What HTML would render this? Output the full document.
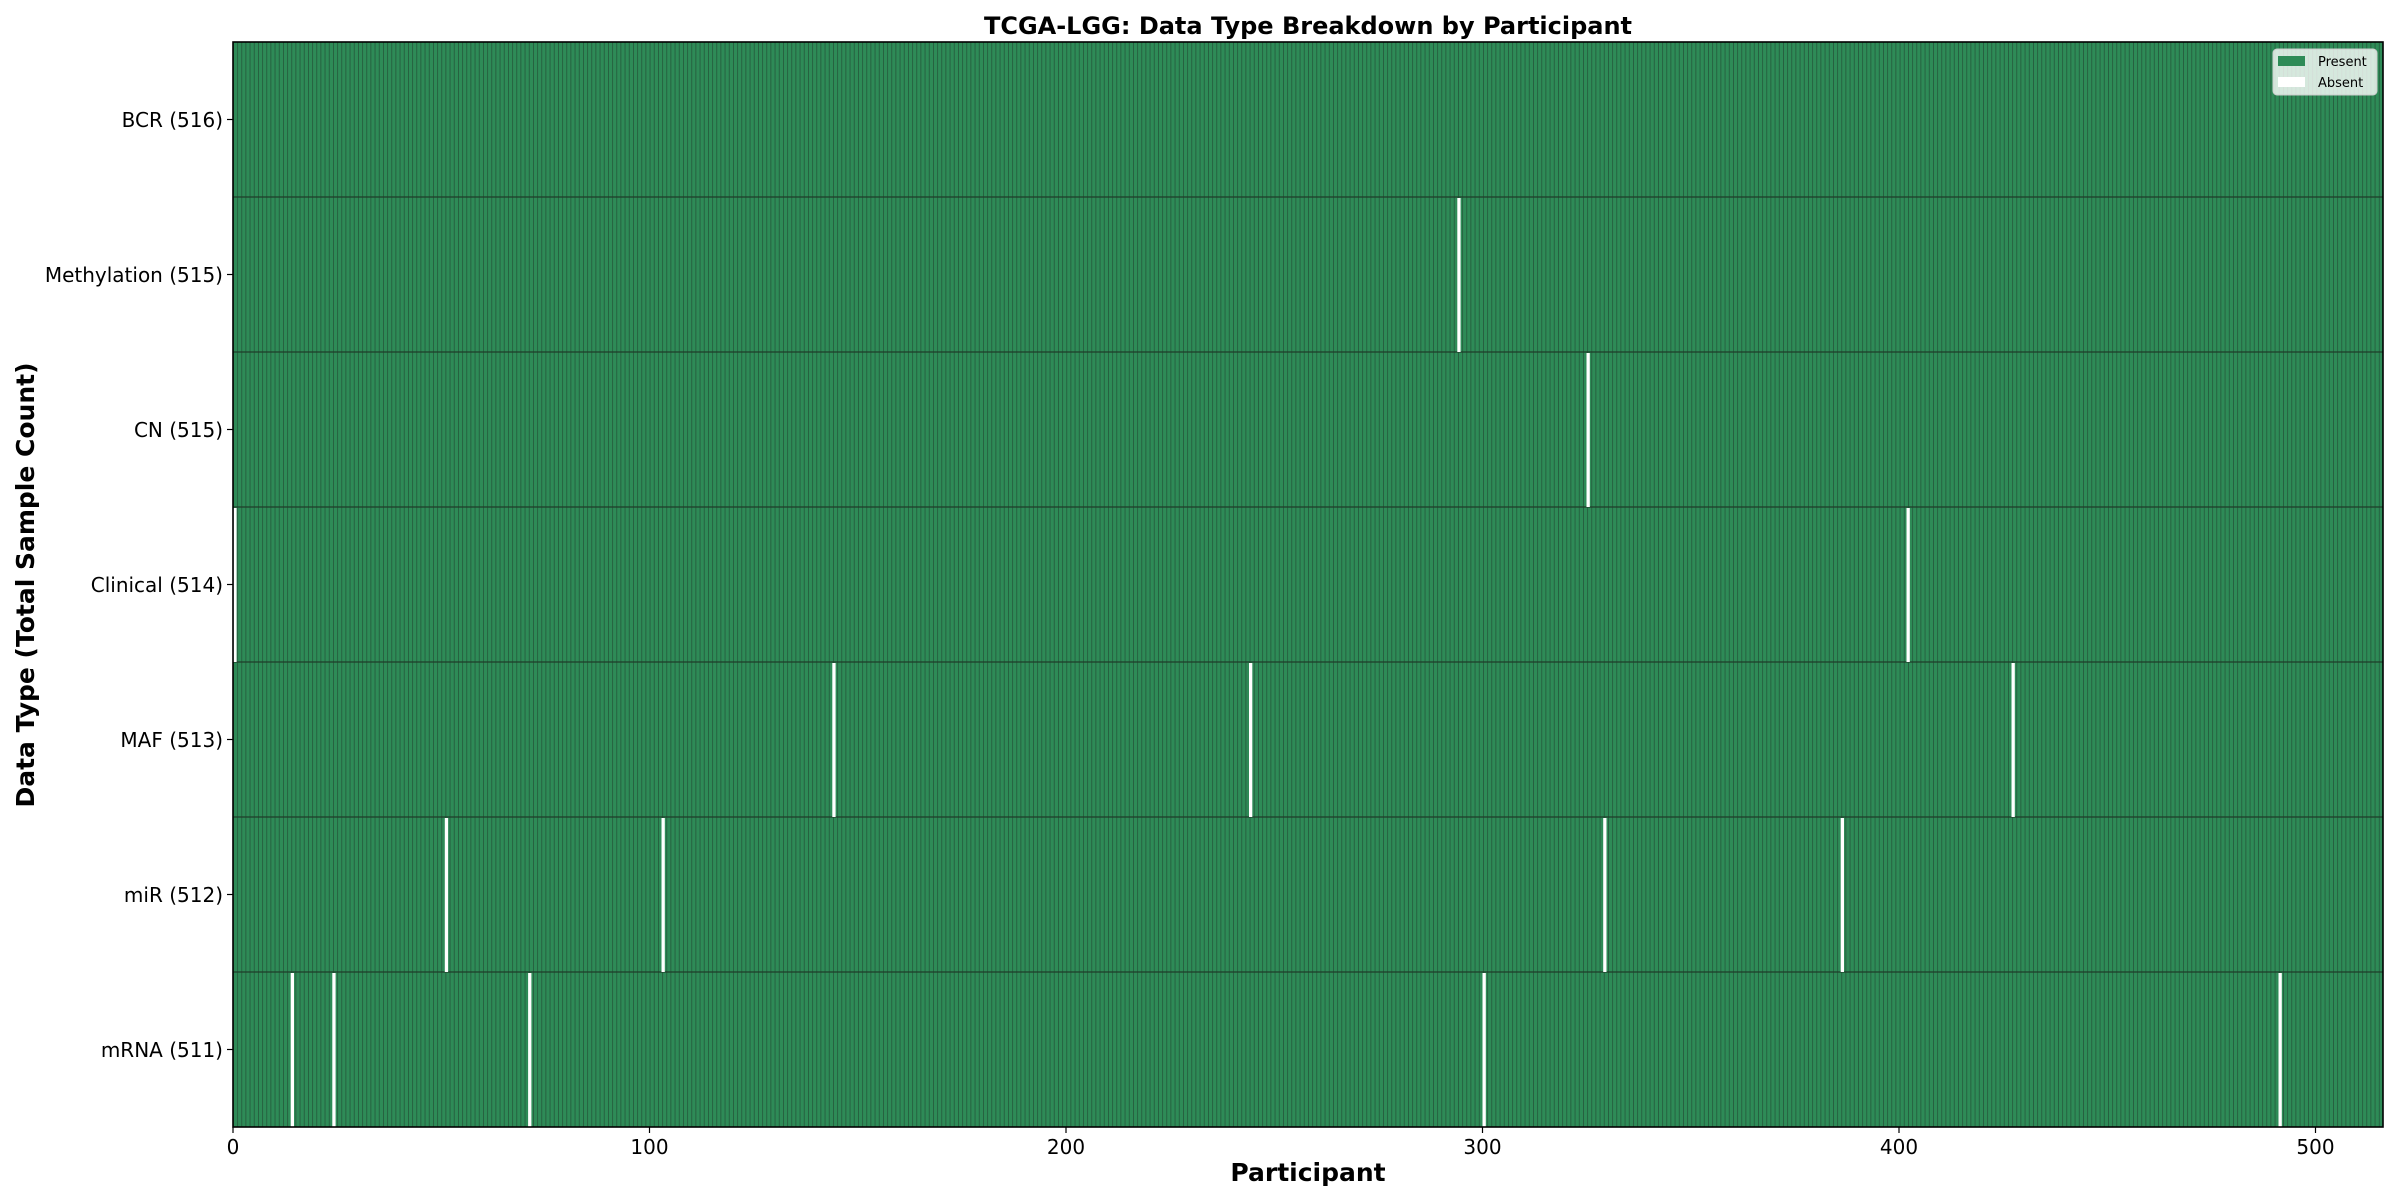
<!DOCTYPE html>
<html><head><meta charset="utf-8"><style>html,body{margin:0;padding:0;background:#fff}svg{display:block}</style></head>
<body>
<svg width="2400" height="1200" xmlns="http://www.w3.org/2000/svg" font-family="DejaVu Sans, Liberation Sans, sans-serif">
<defs>
<pattern id="bars" patternUnits="userSpaceOnUse" x="233" y="0" width="4.1667" height="1200">
<rect x="0" y="0" width="4.1667" height="1200" fill="#2e8b57"/>
<rect x="0" y="0" width="0.75" height="1200" fill="#24553a"/>
</pattern>
</defs>
<text x="1308" y="34" text-anchor="middle" font-size="24" font-weight="bold">TCGA-LGG: Data Type Breakdown by Participant</text>
<rect x="233" y="42" width="2150" height="1085" fill="url(#bars)"/>
<g stroke="#1e3d2a" stroke-width="1.2">
<line x1="233" x2="2383" y1="197" y2="197"/>
<line x1="233" x2="2383" y1="352" y2="352"/>
<line x1="233" x2="2383" y1="507" y2="507"/>
<line x1="233" x2="2383" y1="662" y2="662"/>
<line x1="233" x2="2383" y1="817" y2="817"/>
<line x1="233" x2="2383" y1="972" y2="972"/>
</g>
<g fill="#fff">
<rect x="1457.3" y="198" width="3.3" height="154"/>
<rect x="1586.5" y="353" width="3.3" height="154"/>
<rect x="233.6" y="508" width="3.0" height="154"/>
<rect x="1906.5" y="508" width="3.3" height="154"/>
<rect x="832.3" y="663" width="3.3" height="154"/>
<rect x="1249" y="663" width="3.3" height="154"/>
<rect x="2011.5" y="663" width="3.3" height="154"/>
<rect x="444.8" y="818" width="3.3" height="154"/>
<rect x="661.5" y="818" width="3.3" height="154"/>
<rect x="1603.2" y="818" width="3.3" height="154"/>
<rect x="1840.7" y="818" width="3.3" height="154"/>
<rect x="290.7" y="973" width="3.3" height="154"/>
<rect x="332.3" y="973" width="3.3" height="154"/>
<rect x="528.1" y="973" width="3.3" height="154"/>
<rect x="1482.5" y="973" width="3.3" height="154"/>
<rect x="2278.5" y="973" width="3.3" height="154"/>
</g>
<rect x="233" y="42" width="2150" height="1085" fill="none" stroke="#000" stroke-width="1.6"/>
<rect x="2273" y="49" width="104" height="46" rx="4" fill="#fff" fill-opacity="0.8" stroke="#ccc"/>
<rect x="2278" y="56" width="27" height="10" fill="#2e8b57"/>
<rect x="2278" y="77" width="27" height="10" fill="#fff"/>
<g font-size="13" fill="#000"><text x="2318" y="66">Present</text><text x="2318" y="87">Absent</text></g>
<g stroke="#000" stroke-width="1.2">
<line x1="227" x2="233" y1="119.5" y2="119.5"/><line x1="227" x2="233" y1="274.5" y2="274.5"/>
<line x1="227" x2="233" y1="429.5" y2="429.5"/><line x1="227" x2="233" y1="584.5" y2="584.5"/>
<line x1="227" x2="233" y1="739.5" y2="739.5"/><line x1="227" x2="233" y1="894.5" y2="894.5"/>
<line x1="227" x2="233" y1="1049.5" y2="1049.5"/>
<line y1="1127" y2="1133" x1="233" x2="233"/><line y1="1127" y2="1133" x1="649.5" x2="649.5"/>
<line y1="1127" y2="1133" x1="1066" x2="1066"/><line y1="1127" y2="1133" x1="1482.5" x2="1482.5"/>
<line y1="1127" y2="1133" x1="1899" x2="1899"/><line y1="1127" y2="1133" x1="2315.5" x2="2315.5"/>
</g>
<g font-size="20" text-anchor="end" fill="#000">
<text x="223" y="127">BCR (516)</text><text x="223" y="282">Methylation (515)</text>
<text x="223" y="437">CN (515)</text><text x="223" y="592">Clinical (514)</text>
<text x="223" y="747">MAF (513)</text><text x="223" y="902">miR (512)</text>
<text x="223" y="1057">mRNA (511)</text>
</g>
<g font-size="20" text-anchor="middle" fill="#000">
<text x="233" y="1154">0</text><text x="649.5" y="1154">100</text><text x="1066" y="1154">200</text>
<text x="1482.5" y="1154">300</text><text x="1899" y="1154">400</text><text x="2315.5" y="1154">500</text>
</g>
<text x="1308" y="1181" text-anchor="middle" font-size="25" font-weight="bold">Participant</text>
<text transform="translate(34,585) rotate(-90)" text-anchor="middle" font-size="25" font-weight="bold">Data Type (Total Sample Count)</text>
</svg>
</body></html>
